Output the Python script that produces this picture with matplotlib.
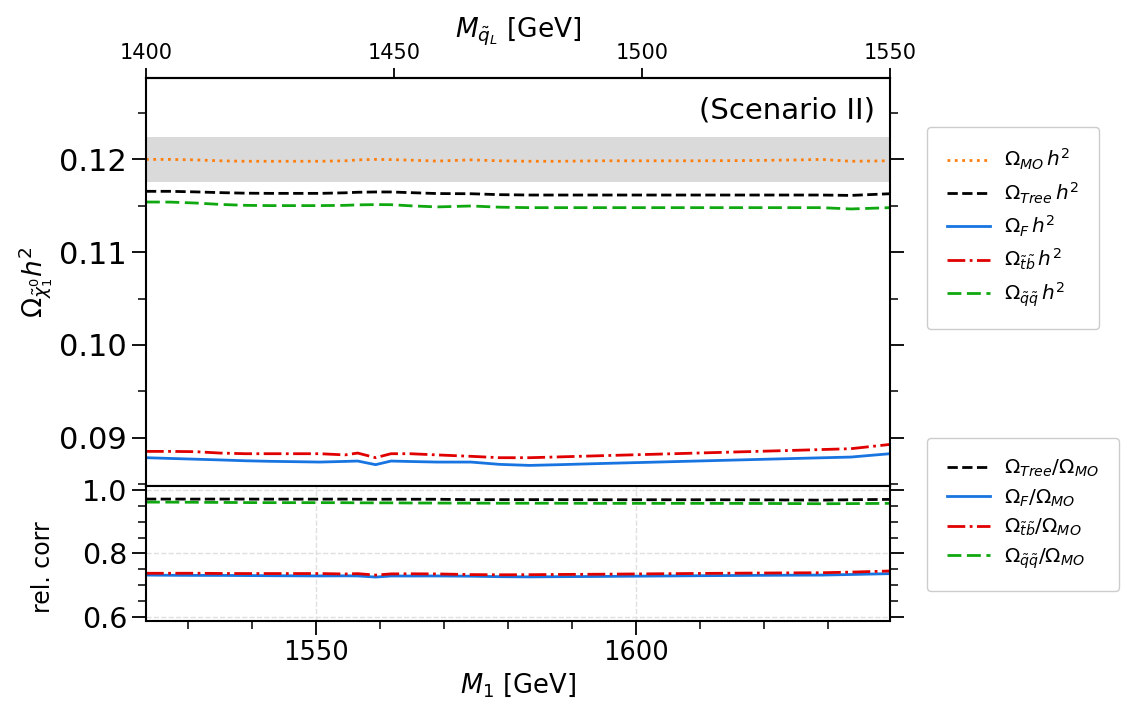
import numpy as np
import matplotlib
matplotlib.use("Agg")
import matplotlib.pyplot as plt
from matplotlib.ticker import MultipleLocator, FormatStrFormatter, FixedLocator

# ---------------- data ----------------
m1 = [1523.4, 1527.2, 1531.1, 1535.0, 1538.9, 1542.8, 1546.7, 1550.6, 1554.5,
      1556.5, 1559.3, 1561.7, 1564.7, 1568.9, 1574.2, 1578.7, 1583.4, 1588.1,
      1594.3, 1602.2, 1610.0, 1617.8, 1625.6, 1629.0, 1633.6, 1639.7]
mql_range = [1400, 1550]
mql_ticks = [1400, 1450, 1500, 1550]

omega_mo = [0.12000, 0.12000, 0.11995, 0.11985, 0.11980, 0.11980, 0.11980, 0.11980,
            0.11985, 0.11995, 0.12000, 0.11998, 0.11992, 0.11982, 0.11995, 0.11985,
            0.11980, 0.11980, 0.11985, 0.11985, 0.11985, 0.11988, 0.11995, 0.12000,
            0.11980, 0.11985]
omega_tree = [0.11656, 0.11656, 0.11650, 0.11642, 0.11636, 0.11634, 0.11634, 0.11634,
              0.11640, 0.11646, 0.11649, 0.11649, 0.11642, 0.11632, 0.11630, 0.11620,
              0.11616, 0.11616, 0.11616, 0.11616, 0.11616, 0.11616, 0.11616, 0.11616,
              0.11612, 0.11630]
omega_f = [0.08785, 0.08777, 0.08769, 0.08761, 0.08752, 0.08746, 0.08742, 0.08738,
           0.08745, 0.08749, 0.08710, 0.08749, 0.08744, 0.08738, 0.08738, 0.08713,
           0.08702, 0.08710, 0.08722, 0.08736, 0.08750, 0.08764, 0.08778, 0.08784,
           0.08792, 0.08828]
omega_tb = [0.08853, 0.08853, 0.08850, 0.08835, 0.08828, 0.08828, 0.08828, 0.08828,
            0.08815, 0.08835, 0.08785, 0.08828, 0.08828, 0.08815, 0.08800, 0.08785,
            0.08785, 0.08794, 0.08806, 0.08821, 0.08836, 0.08851, 0.08866, 0.08873,
            0.08882, 0.08928]
omega_qq = [0.11541, 0.11540, 0.11530, 0.11515, 0.11505, 0.11502, 0.11502, 0.11502,
            0.11505, 0.11510, 0.11513, 0.11512, 0.11500, 0.11488, 0.11498, 0.11485,
            0.11480, 0.11480, 0.11480, 0.11480, 0.11480, 0.11480, 0.11480, 0.11480,
            0.11466, 0.11480]
planck_central = 0.120
planck_err = 0.0024

x = np.array(m1)
mo = np.array(omega_mo)
tree = np.array(omega_tree)
f = np.array(omega_f)
tb = np.array(omega_tb)
qq = np.array(omega_qq)

c_orange = "#ff7f0e"
c_blue = "#1874e0"
c_red = "#e00000"
c_green = "#10a810"
lw = 2.0

fig = plt.figure(figsize=(11.34, 7.2), dpi=100)
ax1 = fig.add_axes([0.1287, 0.325, 0.6561, 0.567])
ax2 = fig.add_axes([0.1287, 0.1375, 0.6561, 0.1875], sharex=ax1)

ax1.axhspan(planck_central - planck_err, planck_central + planck_err, color="#dadada", lw=0, zorder=0)
ax1.plot(x, mo, ls=":", color=c_orange, lw=lw, label=r"$\Omega_{MO}\,h^2$")
ax1.plot(x, tree, ls="--", color="black", lw=lw, label=r"$\Omega_{Tree}\,h^2$")
ax1.plot(x, f, ls="-", color=c_blue, lw=lw, label=r"$\Omega_{F}\,h^2$")
ax1.plot(x, tb, ls="-.", color=c_red, lw=lw, label=r"$\Omega_{\tilde{t}\tilde{b}}\,h^2$")
ax1.plot(x, qq, ls=(0, (5, 2)), color=c_green, lw=lw, label=r"$\Omega_{\tilde{q}\tilde{q}}\,h^2$")

ax2.plot(x, tree / mo, ls="--", color="black", lw=lw, label=r"$\Omega_{Tree}/\Omega_{MO}$")
ax2.plot(x, f / mo, ls="-", color=c_blue, lw=lw, label=r"$\Omega_{F}/\Omega_{MO}$")
ax2.plot(x, tb / mo, ls="-.", color=c_red, lw=lw, label=r"$\Omega_{\tilde{t}\tilde{b}}/\Omega_{MO}$")
ax2.plot(x, qq / mo, ls=(0, (5, 2)), color=c_green, lw=lw, label=r"$\Omega_{\tilde{q}\tilde{q}}/\Omega_{MO}$")

ax1.set_xlim(x[0], x[-1])
ax1.set_ylim(0.0848, 0.1288)
ax2.set_ylim(0.5875, 1.0125)

for ax in (ax1, ax2):
    for s in ax.spines.values():
        s.set_linewidth(1.5)
    ax.tick_params(axis="y", which="both", direction="out", left=True, right=True)
    ax.tick_params(axis="both", which="major", length=10, width=1.3)
    ax.tick_params(axis="both", which="minor", length=6, width=1.1)

ax1.yaxis.set_major_locator(MultipleLocator(0.01))
ax1.yaxis.set_minor_locator(MultipleLocator(0.005))
ax1.yaxis.set_major_formatter(FormatStrFormatter("%.2f"))
ax1.tick_params(axis="y", labelsize=22)
ax1.tick_params(axis="x", which="both", bottom=False, top=False, labelbottom=False)

ax2.yaxis.set_major_locator(MultipleLocator(0.2))
ax2.yaxis.set_minor_locator(MultipleLocator(0.05))
ax2.yaxis.set_major_formatter(FormatStrFormatter("%.1f"))
ax2.xaxis.set_major_locator(MultipleLocator(50))
ax2.xaxis.set_minor_locator(MultipleLocator(10))
ax2.tick_params(axis="y", labelsize=20.5)
ax2.tick_params(axis="x", which="both", direction="out", labelsize=18.5)
ax2.grid(True, which="major", ls="--", color="#e0e0e0", lw=1.0)

ax2.set_xlabel(r"$M_1$ [GeV]", fontsize=18.5)
ax2.set_ylabel("rel. corr", fontsize=17)
ax1.set_ylabel(r"$\Omega_{\tilde{\chi}_1^0} h^2$", fontsize=19)
ax1.yaxis.set_label_coords(-0.122, 0.5)
ax2.yaxis.set_label_coords(-0.122, 0.4)

# top axis
x0, x1 = x[0], x[-1]
q0, q1 = mql_range
def fwd(v):
    return q0 + (np.asarray(v) - x0) * (q1 - q0) / (x1 - x0)
def inv(v):
    return x0 + (np.asarray(v) - q0) * (x1 - x0) / (q1 - q0)
sec = ax1.secondary_xaxis("top", functions=(fwd, inv))
sec.xaxis.set_major_locator(FixedLocator(mql_ticks))
sec.tick_params(axis="x", which="major", length=7, width=1.3, labelsize=15)
sec.tick_params(axis="x", which="minor", top=False)
sec.set_xlabel(r"$M_{\tilde{q}_L}$ [GeV]", fontsize=19)
for s in sec.spines.values():
    s.set_linewidth(1.5)

ax1.text(0.98, 0.92, "(Scenario II)", transform=ax1.transAxes, ha="right", va="center", fontsize=21)

h1, l1 = ax1.get_legend_handles_labels()
h2, l2 = ax2.get_legend_handles_labels()
fig.legend(handles=h1, labels=l1, loc="upper left", bbox_to_anchor=(0.8175, 0.8236),
           borderaxespad=0, fontsize=14.5, labelspacing=0.40, borderpad=1.0,
           handlelength=2.15, handletextpad=0.65, framealpha=1)
fig.legend(handles=h2, labels=l2, loc="upper left", bbox_to_anchor=(0.8175, 0.3917),
           borderaxespad=0, fontsize=14.5, labelspacing=0.40, borderpad=1.0,
           handlelength=2.15, handletextpad=0.65, framealpha=1)

fig.savefig("out.png", dpi=100)
